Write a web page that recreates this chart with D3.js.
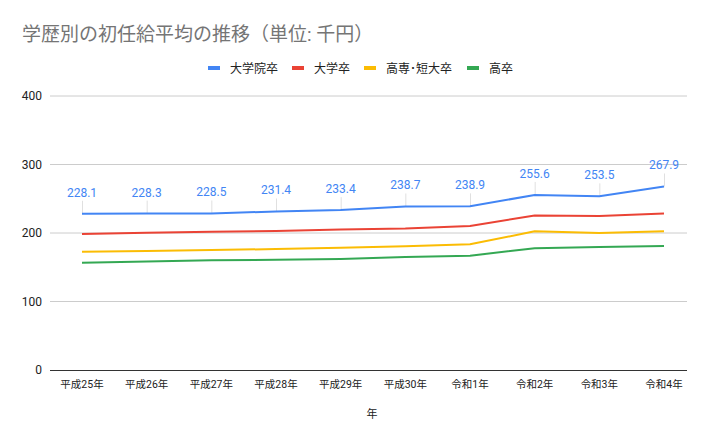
<!DOCTYPE html>
<html>
<head>
<meta charset="utf-8">
<script src="https://cdn.jsdelivr.net/npm/d3@7"></script>
<style>
  body { margin: 0; background: #fff; }
  text { font-family: Roboto, "Noto Sans CJK JP", sans-serif; }
</style>
</head>
<body>
<div id="chart"></div>
<script>
var width = 719, height = 445;

// data
var years = ["平成25年", "平成26年", "平成27年", "平成28年", "平成29年", "平成30年", "令和1年", "令和2年", "令和3年", "令和4年"];
var seriesNames = ["大学院卒", "大学卒", "高専･短大卒", "高卒"];
var colors = ["#4285f4", "#ea4335", "#fbbc04", "#34a853"];
var graduate = [228.1, 228.3, 228.5, 231.4, 233.4, 238.7, 238.9, 255.6, 253.5, 267.9];
var university = [198.5, 200.2, 201.8, 203.0, 205.0, 206.5, 210.2, 225.6, 224.8, 228.6];
var juniorCollege = [172.5, 173.8, 175.2, 176.5, 178.5, 180.8, 183.5, 202.5, 200.0, 202.4];
var highSchool = [156.5, 158.5, 160.2, 160.8, 162.2, 164.8, 166.8, 177.8, 179.5, 181.0];
var yTicks = [0, 100, 200, 300, 400];

var allSeries = [graduate, university, juniorCollege, highSchool];

var svg = d3.select("#chart")
            .append("svg")
            .attr("width", width)
            .attr("height", height);

// scales
var x = d3.scalePoint()
          .domain(years)
          .range([82, 664]);

var y = d3.scaleLinear()
          .domain([0, 400])
          .range([370, 96]);

// title
svg.append("text")
   .attr("x", 22)
   .attr("y", 41)
   .attr("fill", "#757575")
   .style("font-size", "19px")
   .text("学歴別の初任給平均の推移（単位: 千円）");

// legend
var legendX = [208, 292, 364, 467];
seriesNames.forEach(function(name, i) {
    svg.append("rect")
       .attr("x", legendX[i])
       .attr("y", 66)
       .attr("width", 12)
       .attr("height", 4)
       .attr("fill", colors[i]);
    svg.append("text")
       .attr("x", legendX[i] + 22)
       .attr("y", 72.5)
       .attr("fill", "#222")
       .style("font-size", "12px")
       .text(name);
});

// gridlines
svg.append("g")
   .selectAll("line")
   .data(yTicks.filter(function(d) { return d > 0; }))
   .enter()
   .append("line")
   .attr("x1", 50)
   .attr("x2", 687)
   .attr("y1", function(d) { return y(d); })
   .attr("y2", function(d) { return y(d); })
   .attr("stroke", "#ccc")
   .attr("stroke-width", 1);

// y axis labels
svg.append("g")
   .selectAll("text")
   .data(yTicks)
   .enter()
   .append("text")
   .attr("x", 42)
   .attr("y", function(d) { return y(d) + 4; })
   .attr("text-anchor", "end")
   .attr("fill", "#222")
   .style("font-size", "12px")
   .text(function(d) { return d; });

// baseline
svg.append("line")
   .attr("x1", 50)
   .attr("x2", 687)
   .attr("y1", y(0) + 0.5)
   .attr("y2", y(0) + 0.5)
   .attr("stroke", "#333")
   .attr("stroke-width", 1);

// x axis labels
svg.append("g")
   .selectAll("text")
   .data(years)
   .enter()
   .append("text")
   .attr("x", function(d) { return x(d); })
   .attr("y", 388)
   .attr("text-anchor", "middle")
   .attr("fill", "#222")
   .style("font-size", "10.5px")
   .text(function(d) { return d; });

svg.append("text")
   .attr("x", 372)
   .attr("y", 418)
   .attr("text-anchor", "middle")
   .attr("fill", "#222")
   .style("font-size", "11px")
   .text("年");

// leader lines for data labels
svg.append("g")
   .selectAll("line")
   .data(graduate)
   .enter()
   .append("line")
   .attr("x1", function(d, i) { return x(years[i]) + 0.5; })
   .attr("x2", function(d, i) { return x(years[i]) + 0.5; })
   .attr("y1", function(d) { return y(d) - 13; })
   .attr("y2", function(d) { return y(d); })
   .attr("stroke", "#e0e0e0")
   .attr("stroke-width", 1);

// lines
var line = d3.line()
             .x(function(d, i) { return x(years[i]); })
             .y(function(d) { return y(d); });

allSeries.slice().reverse().forEach(function(s, j) {
    var i = allSeries.length - 1 - j;
    svg.append("path")
       .datum(s)
       .attr("d", line)
       .attr("fill", "none")
       .attr("stroke", colors[i])
       .attr("stroke-width", 2)
       .attr("stroke-linejoin", "round");
});

// data labels
svg.append("g")
   .selectAll("text")
   .data(graduate)
   .enter()
   .append("text")
   .attr("x", function(d, i) { return x(years[i]); })
   .attr("y", function(d) { return y(d) - 17; })
   .attr("text-anchor", "middle")
   .attr("fill", "#4285f4")
   .style("font-size", "12px")
   .text(function(d) { return d.toFixed(1); });
</script>
</body>
</html>
